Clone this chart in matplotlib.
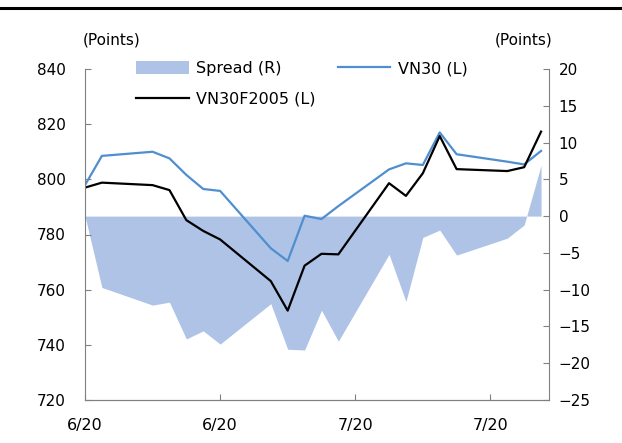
import matplotlib as mpl
mpl.use('agg')
import matplotlib.pyplot as plt
from matplotlib.lines import Line2D
from matplotlib.patches import Patch
import numpy as np

# calendar day offsets of the trading sessions
days = [0, 1, 4, 5, 6, 7, 8, 11, 12, 13, 14, 15, 18, 19, 20, 21, 22, 25, 26, 27]

vn30 = [797.9, 808.5, 810.0, 807.6, 801.6, 796.5, 795.8, 775.0, 770.4, 786.8,
        785.6, 790.3, 803.6, 805.8, 805.2, 817.0, 809.1, 806.4, 805.4, 810.3]
vn30f = [797.0, 798.8, 797.9, 796.1, 785.2, 781.3, 778.2, 763.1, 752.4, 768.7,
         773.0, 772.8, 798.6, 794.0, 802.2, 815.7, 803.7, 803.0, 804.4, 817.3]
spread = [0.0, -9.7, -12.1, -11.7, -16.7, -15.6, -17.4, -11.9, -18.1, -18.2,
          -12.8, -17.0, -5.2, -11.6, -2.9, -1.9, -5.3, -3.0, -1.2, 6.9]

tick_days = [0, 8, 16, 24]
tick_labels = ["6/20", "6/20", "7/20", "7/20"]

blue = '#4F8FD0'
fill = '#AEC3E6'
grey = '#808080'

plt.rcParams['font.family'] = 'DejaVu Sans'
plt.rcParams['font.size'] = 11

fig = plt.figure(figsize=(6.22, 4.43), dpi=100)
ax = fig.add_axes([85/622, 1-400/443, 464/622, 331/443])
ax2 = ax.twinx()

ax2.fill_between(days, spread, 0, color=fill, lw=0)
ax.plot(days, vn30, color=blue, lw=1.6)
ax.plot(days, vn30f, color='black', lw=1.6)

ax.set_zorder(ax2.get_zorder() + 1)
ax.patch.set_visible(False)

ax.set_xlim(0, 27.47)
ax.set_ylim(720, 840)
ax.set_yticks(np.arange(720, 841, 20))
ax2.set_ylim(-25, 20)
ax2.set_yticks(np.arange(-25, 21, 5))
ax.set_xticks(tick_days)
ax.set_xticklabels(tick_labels)

for a in (ax, ax2):
	for s in a.spines.values():
		s.set_color(grey)
	a.spines['top'].set_visible(False)
	a.tick_params(direction='in', length=4.5, color=grey, labelsize=11)
ax.spines['right'].set_visible(False)
ax2.spines['left'].set_visible(False)
ax.tick_params(axis='y', pad=14)
ax.tick_params(axis='x', pad=13, labelsize=11.5)
ax2.tick_params(axis='y', pad=7)

fig.text(83/622, 1-40/443, "(Points)", ha='left', va='center', fontsize=11)
fig.text(552/622, 1-40/443, "(Points)", ha='right', va='center', fontsize=11)

handles = [Patch(color=fill, lw=0), Line2D([], [], color='black', lw=1.6),
           Line2D([], [], color=blue, lw=1.6)]
labels = ["Spread (R)", "VN30F2005 (L)", "VN30 (L)"]
ax.legend(handles, labels, ncol=2, frameon=False, loc='upper left',
          bbox_to_anchor=(136/622, 1-61/443), bbox_transform=fig.transFigure,
          handlelength=3.3, handleheight=0.8, handletextpad=0.45,
          columnspacing=1.4, labelspacing=1.0, borderaxespad=0, borderpad=0,
          fontsize=11.5)

# rule across the top of the figure
fig.add_artist(Line2D([0, 1], [1-8/443, 1-8/443], color='black', lw=2.2,
                      transform=fig.transFigure))

fig.savefig('out.png', dpi=100)
